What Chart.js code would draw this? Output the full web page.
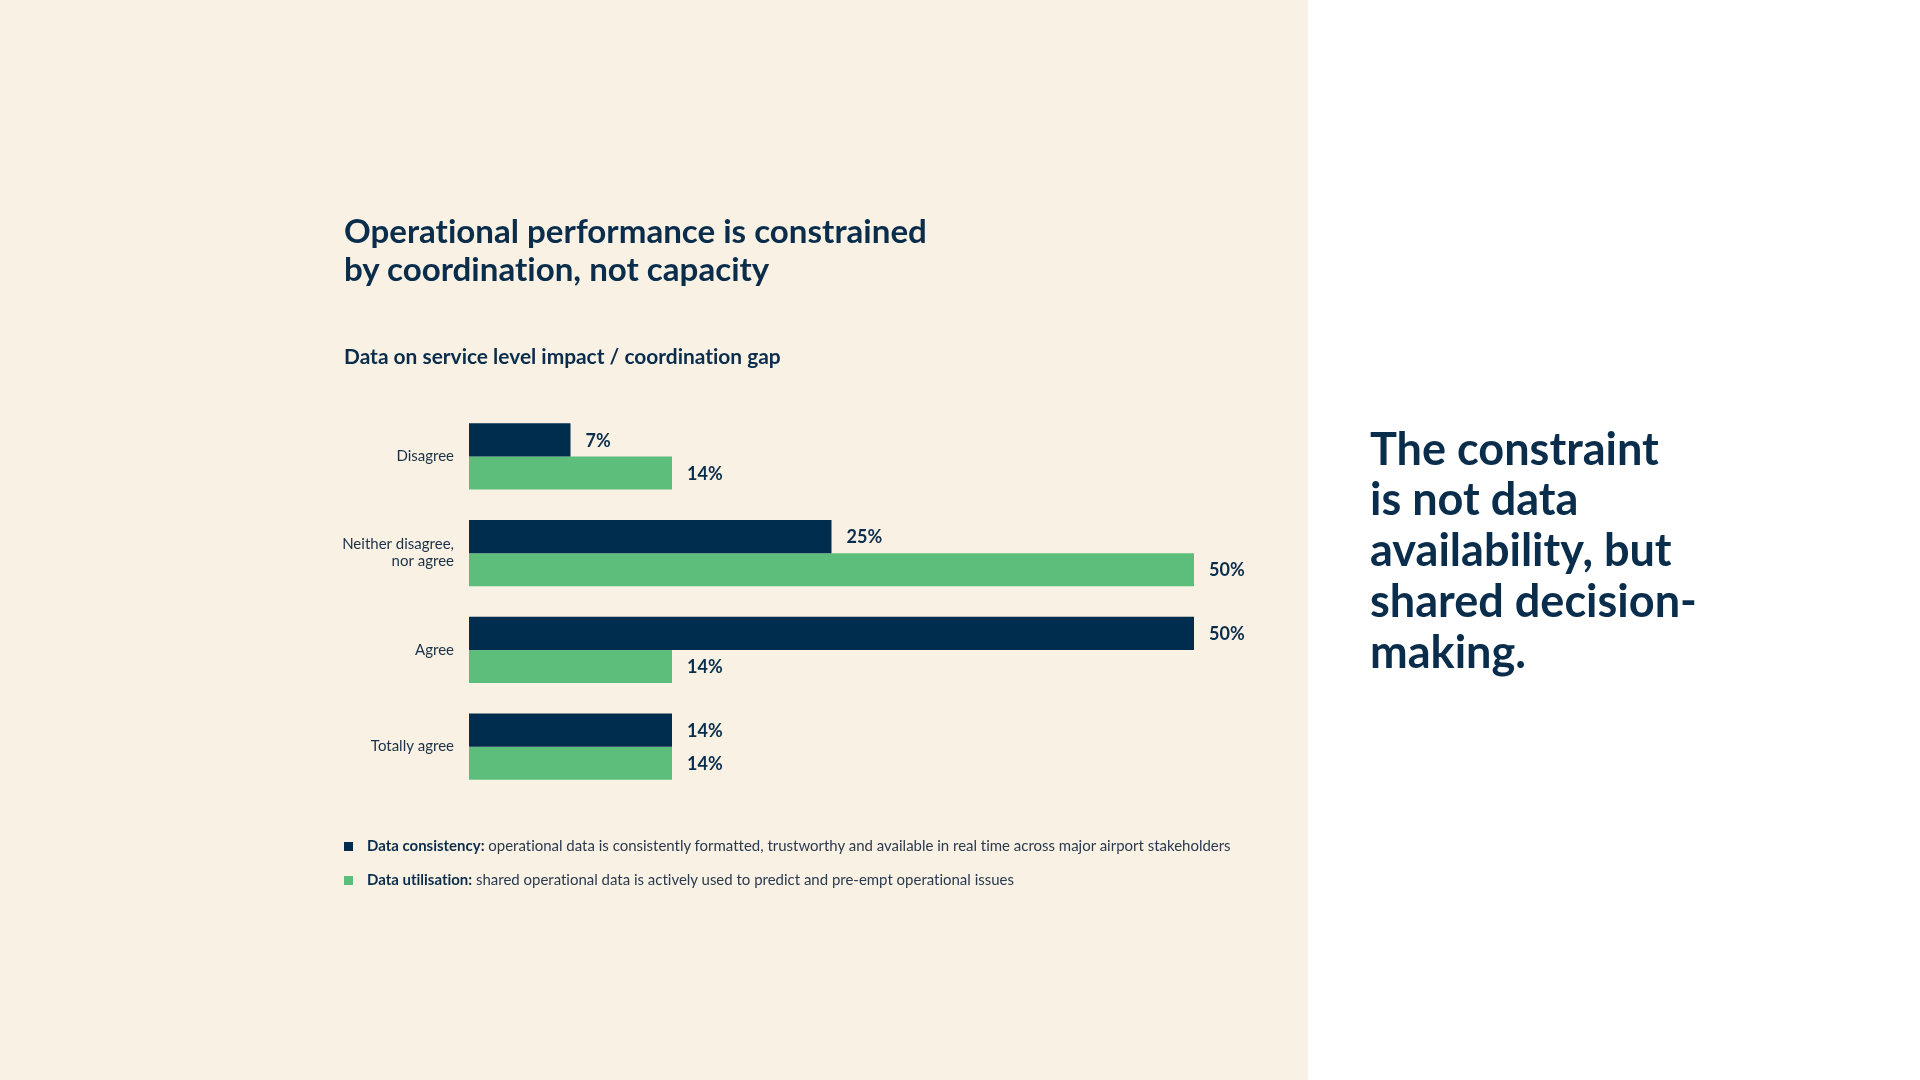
<!DOCTYPE html>
<html>
<head>
<meta charset="utf-8">
<script src="https://cdn.jsdelivr.net/npm/chart.js@4.4.1/dist/chart.umd.min.js"></script>
<style>
  html, body { margin: 0; padding: 0; width: 1920px; height: 1080px; overflow: hidden; background: #ffffff; font-family: 'Lato', sans-serif; font-variant-ligatures: none; font-feature-settings: "liga" 0, "clig" 0; }
  #panel { position: absolute; left: 0; top: 0; width: 1308px; height: 1080px; background: #f9f1e3; }
  #chart { position: absolute; left: 0; top: 0; }
  .line { position: absolute; white-space: nowrap; line-height: 1.2; color: #0a2d4c; }
  .bold { font-weight: 700; }
  .swatch { position: absolute; width: 9px; height: 9px; }
  .legtext { color: #2a3a4e; font-weight: 400; }
  .legtext b { color: #0a2d4c; font-weight: 700; }
</style>
</head>
<body>
<div id="panel"></div>
<canvas id="chart" width="1920" height="1080"></canvas>

<div id="t1" class="line bold">Operational performance is constrained</div>
<div id="t2" class="line bold">by coordination, not capacity</div>
<div id="sub" class="line bold">Data on service level impact / coordination gap</div>

<div id="sw1" class="swatch"></div>
<div id="l1" class="line legtext"></div>
<div id="sw2" class="swatch"></div>
<div id="l2" class="line legtext"></div>

<div id="r0" class="line bold">The constraint</div>
<div id="r1" class="line bold">is not data</div>
<div id="r2" class="line bold">availability, but</div>
<div id="r3" class="line bold">shared decision-</div>
<div id="r4" class="line bold">making.</div>

<script>
// ---- data ----
const categories = ['Disagree', ['Neither disagree,', 'nor agree'], 'Agree', 'Totally agree'];
const consistencyValues = [7, 25, 50, 14];
const utilisationValues = [14, 50, 14, 14];
const seriesNames = ['Data consistency:', 'Data utilisation:'];
const seriesDescriptions = [
  ' operational data is consistently formatted, trustworthy and available in real time across major airport stakeholders',
  ' shared operational data is actively used to predict and pre-empt operational issues'
];
const seriesColors = ['#002c4d', '#5dbd7b'];

// ---- text helpers ----
const ASC = 0.987; // Lato ascent ratio
function fitSize(el, target) {
  const w = el.getBoundingClientRect().width;
  const fs = parseFloat(getComputedStyle(el).fontSize);
  return fs * target / w;
}
function place(el, x, baseline, size) {
  el.style.fontSize = size + 'px';
  el.style.left = x + 'px';
  el.style.top = (baseline - ASC * size) + 'px';
}

document.getElementById('l1').innerHTML = '<b>' + seriesNames[0] + '</b>' + seriesDescriptions[0];
document.getElementById('l2').innerHTML = '<b>' + seriesNames[1] + '</b>' + seriesDescriptions[1];

function layoutText() {
  const t1 = document.getElementById('t1'), t2 = document.getElementById('t2');
  t1.style.fontSize = '30px';
  const ft = fitSize(t1, 583);
  place(t1, 344, 244, ft);
  place(t2, 344, 282, ft);

  const sub = document.getElementById('sub');
  sub.style.fontSize = '18px';
  place(sub, 344, 364, fitSize(sub, 437));

  const l1 = document.getElementById('l1'), l2 = document.getElementById('l2');
  l1.style.fontSize = '14px';
  const fl = fitSize(l1, 864);
  place(l1, 367, 846.5 + 0.36 * fl, fl);
  place(l2, 367, 880 + 0.36 * fl, fl);
  const sw1 = document.getElementById('sw1'), sw2 = document.getElementById('sw2');
  sw1.style.background = seriesColors[0]; sw2.style.background = seriesColors[1];
  sw1.style.left = '344px'; sw1.style.top = '842px';
  sw2.style.left = '344px'; sw2.style.top = '875.5px';

  const r3 = document.getElementById('r3');
  r3.style.fontSize = '40px';
  const fr = fitSize(r3, 327);
  for (let i = 0; i < 5; i++) {
    place(document.getElementById('r' + i), 1370, 465 + 50.8 * i, fr);
  }
}
layoutText();

// ---- value labels plugin ----
const valueLabels = {
  id: 'valueLabels',
  afterDatasetsDraw(chart) {
    const ctx = chart.ctx;
    ctx.save();
    ctx.font = '700 18px Lato';
    ctx.fillStyle = '#0a2d4c';
    ctx.textAlign = 'left';
    ctx.textBaseline = 'middle';
    chart.data.datasets.forEach((ds, di) => {
      const meta = chart.getDatasetMeta(di);
      meta.data.forEach((bar, i) => {
        ctx.fillText(ds.data[i] + '%', bar.x + 15, bar.y + 1);
      });
    });
    ctx.restore();
  }
};

new Chart(document.getElementById('chart'), {
  type: 'bar',
  data: {
    labels: categories,
    datasets: [
      { label: seriesNames[0], data: consistencyValues, backgroundColor: seriesColors[0], borderWidth: 0, categoryPercentage: 0.683, barPercentage: 1.0 },
      { label: seriesNames[1], data: utilisationValues, backgroundColor: seriesColors[1], borderWidth: 0, categoryPercentage: 0.683, barPercentage: 1.0 }
    ]
  },
  options: {
    indexAxis: 'y',
    responsive: false,
    devicePixelRatio: 1,
    animation: false,
    layout: { padding: { top: 408, bottom: 285, left: 0, right: 726 } },
    scales: {
      x: { min: 0, max: 50, display: false },
      y: {
        grid: { display: false, drawTicks: false },
        border: { display: false },
        ticks: { padding: 15, color: '#1a3048', font: { family: 'Lato', size: 15, lineHeight: 1.13 } },
        afterFit(scale) { scale.width = 469; }
      }
    },
    plugins: { legend: { display: false }, tooltip: { enabled: false } }
  },
  plugins: [valueLabels]
});

if (document.fonts && document.fonts.ready) document.fonts.ready.then(layoutText);
</script>
</body>
</html>
